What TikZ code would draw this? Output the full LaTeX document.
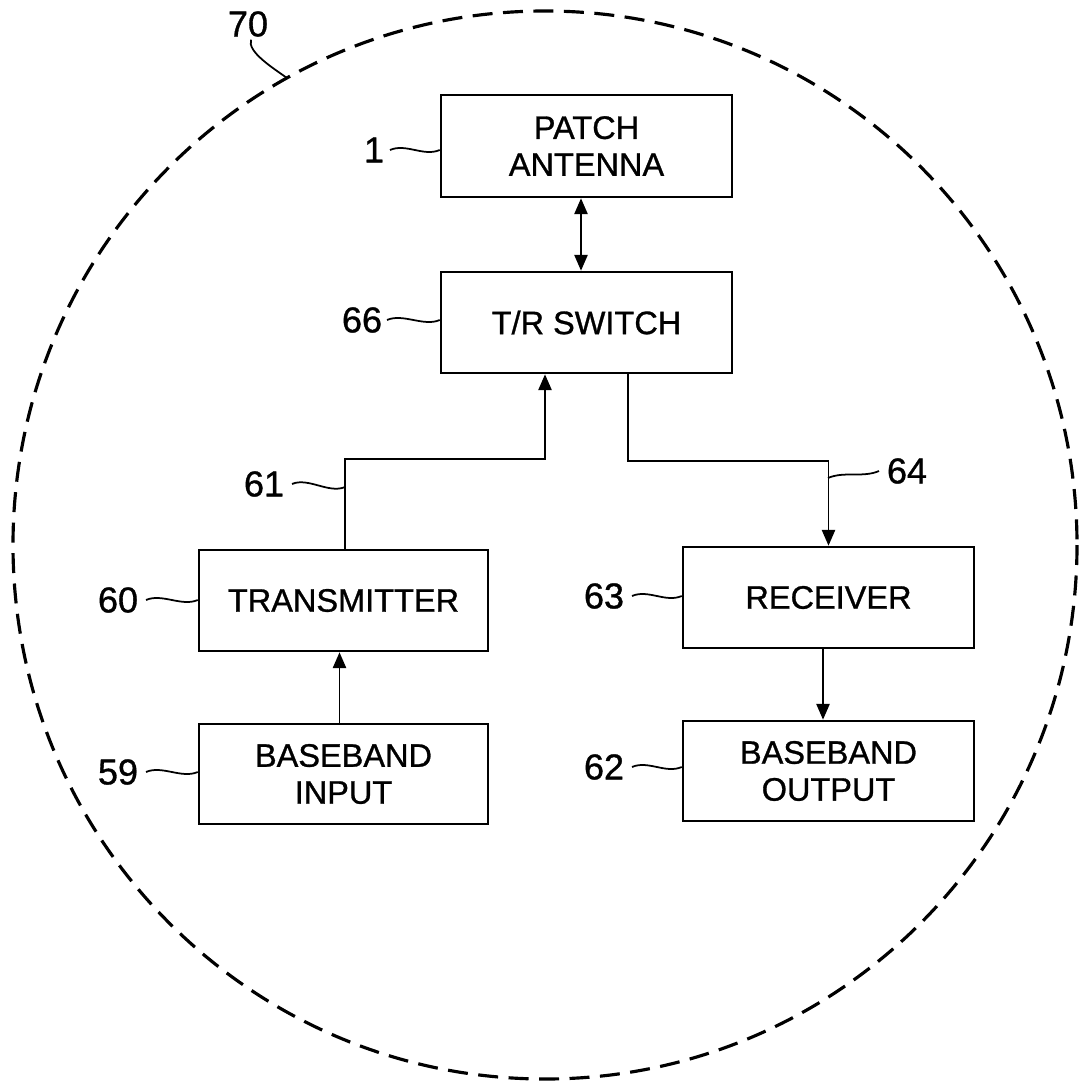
\documentclass[tikz,border=0pt]{standalone}
\usepackage{fontspec}
\setmainfont[FakeBold=0.9]{Liberation Sans}
\usetikzlibrary{arrows.meta}
\begin{document}
\begin{tikzpicture}[x=0.02cm,y=-0.02cm,
  blk/.style={draw, line width=1.5pt, inner sep=0pt, align=center,
    font=\fontsize{18.5}{21}\selectfont},
  lbl/.style={font=\fontsize{20.5}{22}\selectfont, inner sep=1.5pt},
  wire/.style={line width=1.1pt},
  arr/.style={wire, -{Triangle[length=9pt,width=7.5pt]}},
  darr/.style={wire, {Triangle[length=9pt,width=7.5pt]}-{Triangle[length=9pt,width=7.5pt]}},
  leader/.style={line width=1pt},
  ring/.style={line width=1.8pt, dash pattern=on 0.4cm off 0.21cm}]
\useasboundingbox (0,0) rectangle (1078,1084);

% enclosing dashed circle
\draw[ring] (545,545) ellipse [x radius=532, y radius=534];

% blocks
\node[blk, minimum width=5.82cm, minimum height=2.04cm] (patch) at (586.5,146) {PATCH\\ANTENNA};
\node[blk, minimum width=5.82cm, minimum height=2.02cm] (trsw) at (586.5,322.5) {T/R SWITCH};
\node[blk, minimum width=5.78cm, minimum height=2.02cm] (tx) at (343.5,600.5) {TRANSMITTER};
\node[blk, minimum width=5.78cm, minimum height=2.0cm] (bbin) at (343.5,774) {BASEBAND\\INPUT};
\node[blk, minimum width=5.82cm, minimum height=2.02cm] (rx) at (828.5,597.5) {RECEIVER};
\node[blk, minimum width=5.82cm, minimum height=2.0cm] (bbout) at (828.5,771) {BASEBAND\\OUTPUT};

% connectors
\draw[darr] ([xshift=-0.11cm]patch.south) -- ([xshift=-0.11cm]trsw.north);
\draw[arr] ([xshift=0.03cm]tx.north) -- ++(0,-90) -| ([xshift=-0.83cm]trsw.south);
\draw[arr] ([xshift=0.83cm]trsw.south) -- ++(0,87) -| (rx.north);
\draw[arr] ([xshift=-0.08cm]bbin.north) -- ([xshift=-0.08cm]tx.south);
\draw[arr] ([xshift=-0.11cm]rx.south) -- ([xshift=-0.11cm]bbout.north);

% reference labels
\node[lbl] (l70) at (248,24) {70};
\node[lbl] (l1) at (374,150) {1};
\node[lbl] (l66) at (362,320) {66};
\node[lbl] (l61) at (264,484) {61};
\node[lbl] (l60) at (118,600) {60};
\node[lbl] (l59) at (118,772) {59};
\node[lbl] (l64) at (907,471) {64};
\node[lbl] (l63) at (604,596) {63};
\node[lbl] (l62) at (604,767) {62};

\coordinate (c70) at (287,78);
\coordinate (c61) at (345,487);
\coordinate (c64) at (828,478);

% leaders
\draw[leader] ([xshift=0.06cm]l70.south) .. controls +(-4,12) and +(-14,-10) .. (c70);
\draw[leader] ([xshift=0.06cm]l1.east) .. controls +(16,-7) and +(-16,7) .. (patch.west |- l1.east);
\draw[leader] ([xshift=0.04cm]l66.east) .. controls +(16,-7) and +(-16,7) .. (trsw.west |- l66.east);
\draw[leader] ([xshift=0.1cm]l61.east) .. controls +(16,-7) and +(-16,7) .. (c61);
\draw[leader] ([xshift=0.1cm]l60.east) .. controls +(16,-7) and +(-16,7) .. (tx.west |- l60.east);
\draw[leader] ([xshift=0.1cm]l59.east) .. controls +(16,-7) and +(-16,7) .. (bbin.west |- l59.east);
\draw[leader] ([xshift=0.1cm]l63.east) .. controls +(16,-7) and +(-16,7) .. (rx.west |- l63.east);
\draw[leader] ([xshift=0.1cm]l62.east) .. controls +(16,-7) and +(-16,7) .. (bbout.west |- l62.east);
\draw[leader] (c64) .. controls +(16,-7) and +(-16,7) .. ([xshift=-0.1cm]l64.west);
\end{tikzpicture}
\end{document}
